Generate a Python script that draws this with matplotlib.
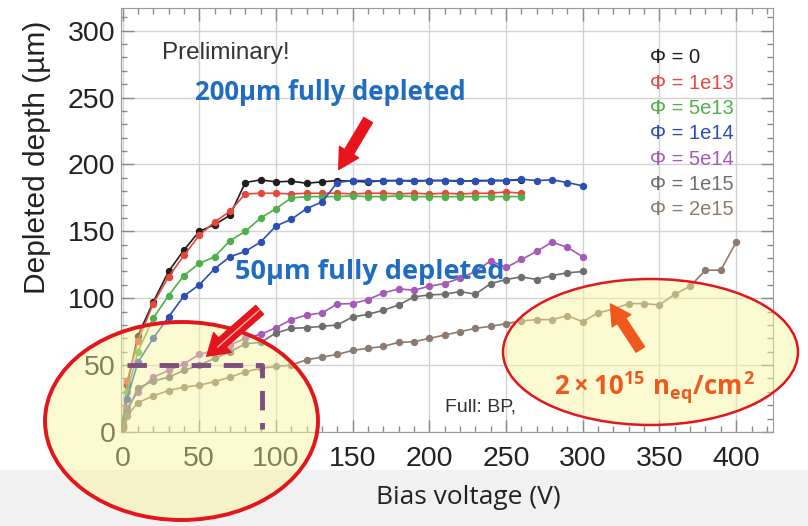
import matplotlib
matplotlib.use('Agg')
import matplotlib.pyplot as plt
from matplotlib.patches import Ellipse, Rectangle, FancyArrowPatch, ArrowStyle
from matplotlib.lines import Line2D
from matplotlib.ticker import MultipleLocator

plt.rcParams['font.family'] = ['Liberation Sans', 'DejaVu Sans']
plt.rcParams['mathtext.fontset'] = 'custom'
plt.rcParams['mathtext.rm'] = 'Open Sans:bold'
plt.rcParams['mathtext.it'] = 'Open Sans:bold'
plt.rcParams['mathtext.bf'] = 'Open Sans:bold'

# ---------------- data ----------------
volts_0 = [0, 3, 10, 20, 30, 40, 50, 60, 70, 80, 90, 100, 110, 120, 130, 140, 150,
           160, 170, 180, 190, 200, 210, 220, 230, 240, 250, 260]
depth_0 = [5, 35, 72, 97, 120, 136, 150, 155, 162, 186.5, 188.5, 187, 187.5, 186, 187,
           188, 187.5, 187, 188, 188, 187.5, 188, 188, 187.5, 188, 188, 188, 188.5]

volts_1e13 = volts_0
depth_1e13 = [5, 38, 68, 96, 116, 132, 147, 157, 165, 178, 178.5, 178.5, 178, 178.5,
              178.5, 178.5, 178, 178.5, 178.5, 178, 178.5, 178, 178.5, 178, 178.5,
              178.5, 179.5, 178.5]

volts_5e13 = volts_0
depth_5e13 = [8, 30, 60, 85, 102, 117, 126, 131, 143, 150, 160, 167, 175, 176, 176,
              176, 176.5, 176, 176, 176.5, 176, 176, 176, 176, 176, 176, 176, 176]

volts_long = [0, 3, 10, 20, 30, 40, 50, 60, 70, 80, 90, 100, 110, 120, 130, 140, 150,
              160, 170, 180, 190, 200, 210, 220, 230, 240, 250, 260, 270, 280, 290, 300]
depth_1e14 = [3, 25, 52, 70, 86, 101.7, 110, 122, 131, 135, 142, 154, 159, 167, 172,
              186.5, 188, 188, 187.5, 188, 188, 188, 188, 188, 187.5, 188, 188, 189,
              188, 188.5, 186.5, 184]
depth_5e14 = [4, 18, 30, 41, 46, 51, 58, 61, 65, 70, 73, 78, 84, 87.5, 89, 95.7, 96,
              99, 104, 107, 106, 109, 111, 115, 120, 128, 123, 129, 135, 142, 138, 131]
depth_1e15 = [4, 15, 33, 38, 41, 46, 50, 55, 60, 66, 67, 74, 77.5, 78, 79, 80, 86, 88,
              91, 95, 101, 102.5, 103, 105, 103, 111, 114, 116, 114, 117, 119, 120]

volts_2e15 = [0, 3, 10, 20, 30, 40, 50, 60, 70, 80, 90, 100, 110, 120, 130, 140, 150,
              160, 170, 180, 190, 200, 210, 220, 230, 240, 250, 260, 270, 280, 290,
              300, 310, 320, 330, 340, 350, 360, 370, 380, 390, 400]
depth_2e15 = [3, 12, 22, 27, 31, 33.5, 35, 37.6, 41, 45, 47.6, 49, 50, 54, 56, 58, 61,
              62.6, 64, 67, 67.5, 70, 72.5, 75, 77.5, 79, 81, 83, 84, 84, 87, 82.5, 89,
              92, 96, 96, 95, 103, 109, 121, 121, 142]

series_labels = ['Φ = 0', 'Φ = 1e13', 'Φ = 5e13', 'Φ = 1e14', 'Φ = 5e14', 'Φ = 1e15', 'Φ = 2e15']
series_colors = ['#1e1e1e', '#e8473d', '#4db04a', '#2c4fb5', '#a55ab8', '#6e6e6e', '#8c7b6e']
series_x = [volts_0, volts_1e13, volts_5e13, volts_long, volts_long, volts_long, volts_2e15]
series_y = [depth_0, depth_1e13, depth_5e13, depth_1e14, depth_5e14, depth_1e15, depth_2e15]

x_ticks = [0, 50, 100, 150, 200, 250, 300, 350, 400]
y_ticks = [0, 50, 100, 150, 200, 250, 300]

W, H = 808, 526
def fx(px):
    return px / W
def fy(py):
    return 1 - py / H

# ---------------- figure ----------------
fig = plt.figure(figsize=(W / 100, H / 100), dpi=100)
fig.patch.set_facecolor('white')
fig.add_artist(Rectangle((0, 0), 1, 56 / H, transform=fig.transFigure,
                         facecolor='#f1f1f1', edgecolor='none', zorder=-1))

ax = fig.add_axes([fx(121), fy(432), (773 - 121) / W, (432 - 8) / H])
ax.set_xlim(-1, 424)
ax.set_ylim(0, 317)
ax.set_xticks(x_ticks)
ax.set_yticks(y_ticks)
ax.xaxis.set_minor_locator(MultipleLocator(10))
ax.yaxis.set_minor_locator(MultipleLocator(10))
ax.grid(True, which='major', color='#d2d2d2', lw=1.0)
ax.set_axisbelow(True)
ax.tick_params(which='both', direction='in', top=True, right=True, colors='#8a8a8a',
               labelcolor='#222222')
ax.tick_params(which='major', length=9, width=1.0)
ax.tick_params(which='minor', length=4, width=1.0)
ax.tick_params(axis='y', labelsize=20.5, pad=4)
ax.tick_params(axis='x', labelsize=20.5, pad=10)
for s in ax.spines.values():
    s.set_color('#9a9a9a')

for xs, ys, c in zip(series_x, series_y, series_colors):
    ax.plot(xs, ys, '-o', color=c, lw=1.2, ms=4.3, zorder=3)

# legend as coloured text
for i, (lab, c) in enumerate(zip(series_labels, series_colors)):
    fig.text(fx(650), fy(58 + 25.3 * i), lab, color=c, fontsize=14.5, ha='left', va='center')

fig.text(fx(37), fy(157), 'Depleted depth (µm)', rotation=90, fontsize=21.5,
         ha='center', va='center', color='#222222')
fig.text(fx(468), fy(497), 'Bias voltage (V)', fontsize=19, family='Open Sans',
         ha='center', va='center', color='#222222')

fig.text(fx(162), fy(53), 'Preliminary!', fontsize=17.5, ha='left', va='center', color='#333333')
fig.text(fx(445), fy(407), 'Full: BP,', fontsize=14, ha='left', va='center', color='#333333')

fig.text(fx(195), fy(93), '200µm fully depleted', fontsize=18.5, family='Open Sans',
         fontweight='bold', color='#1f6cc0', ha='left', va='center')
fig.text(fx(235), fy(272), '50µm fully depleted', fontsize=19.5, family='Open Sans',
         fontweight='bold', color='#1f6cc0', ha='left', va='center', zorder=5)

# red arrow at 200 um
arr1 = FancyArrowPatch((161, 235), (140, 194.5), transform=ax.transData,
                       arrowstyle=ArrowStyle.Simple(head_length=1.45, head_width=1.6, tail_width=0.72),
                       mutation_scale=10, color='#e8141c', zorder=6)
fig.add_artist(arr1)

# ellipses
fig.add_artist(Ellipse((fx(181.5), fy(421)), 273 / W, 198 / H, transform=fig.transFigure,
                       facecolor=(0.98, 0.96, 0.6, 0.45), edgecolor='#e3161b', lw=2.8, zorder=3))
fig.add_artist(Ellipse((fx(650.5), fy(352)), 295 / W, 146 / H, transform=fig.transFigure,
                       facecolor=(0.98, 0.96, 0.6, 0.45), edgecolor='#e3161b', lw=1.8, zorder=3))

# dashed 50um box
fig.add_artist(Line2D([3, 91, 91], [50, 50, 2], transform=ax.transData, color='#7f4f80',
                      lw=3.5, dashes=(4, 2.6), zorder=6))

# arrow to 50 um
arr2 = FancyArrowPatch((90.7, 92.7), (53.5, 55.3), transform=ax.transData,
                       arrowstyle=ArrowStyle.Simple(head_length=1.5, head_width=1.9, tail_width=0.85),
                       mutation_scale=10, color='#e8141c', zorder=6)
fig.add_artist(arr2)
fig.add_artist(Line2D([89, 62], [91, 63.5], transform=ax.transData, color='#f7b5b5',
                      lw=1.0, zorder=7))

# orange arrow and fluence label
arr3 = FancyArrowPatch((338.5, 60), (317, 97.5), transform=ax.transData,
                       arrowstyle=ArrowStyle.Simple(head_length=1.45, head_width=1.6, tail_width=0.72),
                       mutation_scale=10, color='#f0581e', zorder=6)
fig.add_artist(arr3)
fig.text(fx(654), fy(388), r'$2\times10^{15}\ n_{eq}/cm^{2}$', fontsize=18.5,
         color='#f0581e', ha='center', va='center', zorder=7)

fig.savefig('out.png', dpi=100)
